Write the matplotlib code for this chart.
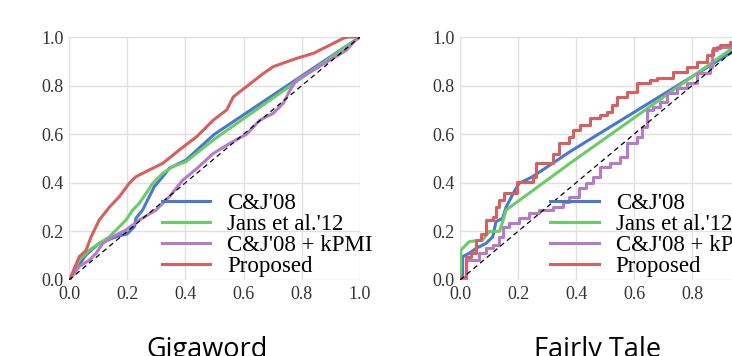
import numpy as np
import matplotlib
matplotlib.use("Agg")
import matplotlib.pyplot as plt

# series colours (old seaborn "muted")
c_blue = "#4878CF"
c_green = "#6ACC65"
c_purple = "#B47CC7"
c_red = "#D65F5F"

labels = ["C&J'08", "Jans et al.'12", "C&J'08 + kPMI", "Proposed"]
titles = ["Gigaword", "Fairly Tale"]

# ---- Gigaword (left) ----
gw_cj_x = [0.0, 0.058, 0.104, 0.162, 0.20, 0.225, 0.23, 0.253, 0.276, 0.293, 0.322, 0.345, 0.402, 0.5, 0.78, 1.0]
gw_cj_y = [0.0, 0.103, 0.151, 0.178, 0.19, 0.22, 0.254, 0.288, 0.343, 0.384, 0.425, 0.46, 0.494, 0.60, 0.824, 1.0]

gw_jans_x = [0.0, 0.035, 0.07, 0.104, 0.139, 0.162, 0.196, 0.219, 0.242, 0.265, 0.288, 0.322, 0.356, 0.402, 0.5, 0.78, 1.0]
gw_jans_y = [0.0, 0.082, 0.123, 0.151, 0.178, 0.206, 0.247, 0.288, 0.316, 0.357, 0.398, 0.439, 0.466, 0.487, 0.58, 0.815, 1.0]

gw_kpmi_x = [0.0, 0.035, 0.07, 0.093, 0.116, 0.15, 0.196, 0.242, 0.299, 0.345, 0.39, 0.436, 0.496, 0.553,
             0.61, 0.656, 0.702, 0.736, 0.759, 0.782, 0.84, 0.897, 0.954, 0.99, 1.0]
gw_kpmi_y = [0.0, 0.055, 0.082, 0.11, 0.151, 0.178, 0.206, 0.247, 0.288, 0.343, 0.41, 0.455, 0.521, 0.5625,
             0.60, 0.658, 0.686, 0.727, 0.78, 0.823, 0.864, 0.905, 0.946, 0.995, 1.0]

gw_prop_x = [0.0, 0.007, 0.035, 0.058, 0.076, 0.104, 0.139, 0.173, 0.207, 0.23, 0.276, 0.322, 0.379, 0.439,
             0.496, 0.542, 0.565, 0.61, 0.668, 0.702, 0.782, 0.84, 0.897, 0.943, 0.96, 1.0]
gw_prop_y = [0.0, 0.014, 0.096, 0.12, 0.178, 0.247, 0.30, 0.343, 0.398, 0.425, 0.453, 0.48, 0.535, 0.59,
             0.658, 0.70, 0.754, 0.796, 0.85, 0.878, 0.912, 0.933, 0.967, 0.995, 1.0, 1.0]

# ---- Fairly Tale (right) ----
ft_cj_x = [0.0, 0.009, 0.009, 0.032, 0.055, 0.09, 0.113, 0.124, 0.147, 0.159, 0.187, 0.204, 0.25, 0.379, 0.931, 1.0]
ft_cj_y = [0.0, 0.0, 0.096, 0.11, 0.13, 0.151, 0.178, 0.24, 0.254, 0.30, 0.364, 0.398, 0.425, 0.528, 0.933, 1.0]

ft_jans_x = [0.0, 0.003, 0.003, 0.02, 0.032, 0.078, 0.101, 0.136, 0.147, 0.159, 0.379, 0.931, 1.0]
ft_jans_y = [0.0, 0.055, 0.123, 0.144, 0.158, 0.165, 0.2, 0.2, 0.24, 0.288, 0.48, 0.947, 1.0]

ft_kpmi_x = [0.0, 0.02, 0.055, 0.067, 0.09, 0.113, 0.136, 0.147, 0.17, 0.204, 0.239, 0.273, 0.32, 0.354,
             0.377, 0.411, 0.434, 0.46, 0.483, 0.517, 0.552, 0.575, 0.609, 0.626, 0.644, 0.667, 0.69,
             0.713, 0.747, 0.782, 0.816, 0.862, 0.868, 0.885, 0.931, 1.0]
ft_kpmi_y = [0.0, 0.082, 0.082, 0.11, 0.13, 0.144, 0.178, 0.22, 0.233, 0.254, 0.274, 0.288, 0.30, 0.322,
             0.343, 0.377, 0.398, 0.425, 0.466, 0.48, 0.507, 0.5625, 0.59, 0.63, 0.70, 0.713, 0.734,
             0.768, 0.79, 0.809, 0.85, 0.878, 0.947, 0.96, 0.967, 1.0]

ft_prop_x = [0.0, 0.003, 0.02, 0.038, 0.055, 0.072, 0.09, 0.113, 0.124, 0.136, 0.153, 0.195, 0.25, 0.262,
             0.32, 0.342, 0.377, 0.389, 0.414, 0.448, 0.483, 0.506, 0.523, 0.54, 0.575, 0.609, 0.655,
             0.678, 0.736, 0.782, 0.816, 0.851, 0.873, 0.897, 0.931, 0.97, 1.0]
ft_prop_y = [0.0, 0.014, 0.096, 0.11, 0.165, 0.19, 0.247, 0.26, 0.30, 0.33, 0.357, 0.405, 0.425, 0.48,
             0.52, 0.5625, 0.59, 0.617, 0.638, 0.665, 0.679, 0.693, 0.72, 0.754, 0.775, 0.809, 0.823,
             0.83, 0.857, 0.878, 0.898, 0.926, 0.953, 0.967, 0.98, 0.99, 1.0]

ticks = [0.0, 0.2, 0.4, 0.6, 0.8, 1.0]

serif = "Liberation Serif"
lw = 2.2

fig = plt.figure(figsize=(7.32, 3.56), dpi=100)
ax1 = fig.add_axes([69 / 732, 76 / 356, 291 / 732, 243 / 356])
ax2 = fig.add_axes([460 / 732, 76 / 356, 290 / 732, 243 / 356])


def style(ax):
    ax.set_xlim(0, 1)
    ax.set_ylim(0, 1)
    ax.set_xticks(ticks)
    ax.set_yticks(ticks)
    ax.set_xticklabels(["%.1f" % t for t in ticks], fontfamily=serif, fontsize=13, color="#333333")
    ax.set_yticklabels(["%.1f" % t for t in ticks], fontfamily=serif, fontsize=13, color="#333333")
    ax.tick_params(length=0)
    ax.tick_params(axis="x", pad=4)
    ax.tick_params(axis="y", pad=4)
    for s in ax.spines.values():
        s.set_visible(False)
    ax.grid(True, color="#e0e0e0", linewidth=1.0)
    ax.set_axisbelow(True)
    ax.plot([0, 1], [0, 1], color="black", linestyle=(0, (4, 3)), linewidth=0.9, zorder=5)


style(ax1)
ax1.plot(gw_cj_x, gw_cj_y, color=c_blue, lw=lw, label=labels[0])
ax1.plot(gw_jans_x, gw_jans_y, color=c_green, lw=lw, label=labels[1])
ax1.plot(gw_kpmi_x, gw_kpmi_y, color=c_purple, lw=lw, label=labels[2])
ax1.plot(gw_prop_x, gw_prop_y, color=c_red, lw=lw, label=labels[3])

style(ax2)
ax2.plot(ft_cj_x, ft_cj_y, color=c_blue, lw=lw, label=labels[0])
ax2.plot(ft_jans_x, ft_jans_y, color=c_green, lw=lw, label=labels[1])
ax2.plot(ft_kpmi_x, ft_kpmi_y, color=c_purple, lw=lw, drawstyle="steps-post", label=labels[2])
ax2.plot(ft_prop_x, ft_prop_y, color=c_red, lw=lw, drawstyle="steps-post", label=labels[3])

for ax, xa in [(ax1, 0.318), (ax2, 0.312)]:
    ax.legend(loc="lower left", bbox_to_anchor=(xa, 0.012), frameon=False,
              prop={"family": serif, "size": 16.5}, handlelength=2.1, handletextpad=0.75,
              labelspacing=0.0, borderpad=0.0, borderaxespad=0.0)

fig.text(207 / 732, -0.004, titles[0], family="Open Sans", fontsize=19.5, ha="center", va="baseline", color="black")
fig.text(598 / 732, -0.004, titles[1], family="Open Sans", fontsize=19.5, ha="center", va="baseline", color="black")

fig.savefig("out.png", dpi=100)
